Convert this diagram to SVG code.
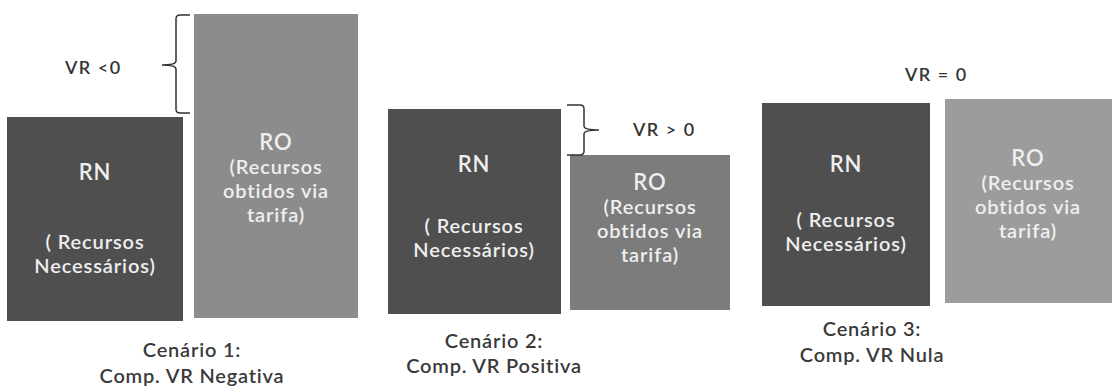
<svg xmlns="http://www.w3.org/2000/svg" width="1115" height="387" viewBox="0 0 1115 387">
<style>
.rn{fill:#4f4f4f}
.ro1{fill:#8c8c8c}
.ro2{fill:#7c7c7c}
.ro3{fill:#9c9c9c}
.bt{font-family:Lato,"Open Sans","Liberation Sans",sans-serif;font-size:20px;font-weight:600;fill:#efefef;text-anchor:middle;letter-spacing:0.9px}
.big{font-size:22px}
.cap{font-family:Lato,"Open Sans","Liberation Sans",sans-serif;font-size:20px;font-weight:600;fill:#3a3a3a;text-anchor:middle;letter-spacing:0.8px}
.vr{font-family:Lato,"Open Sans","Liberation Sans",sans-serif;font-size:18px;font-weight:600;fill:#333;letter-spacing:1.5px}
.br{fill:none;stroke:#333;stroke-width:1.5}
</style>
<rect width="1115" height="387" fill="#ffffff"/>

<g id="rn1">
<rect class="rn" x="7" y="117" width="176" height="204"/>
<text class="bt big" x="95" y="180">RN</text>
<text class="bt" x="95" y="249">( Recursos</text>
<text class="bt" x="95" y="273">Necessários)</text>
</g>
<g id="ro1">
<rect class="ro1" x="194" y="14" width="164" height="304"/>
<text class="bt big" x="276" y="150">RO</text>
<text class="bt" x="276" y="174">(Recursos</text>
<text class="bt" x="276" y="198">obtidos via</text>
<text class="bt" x="276" y="222">tarifa)</text>
</g>
<g id="rn2">
<rect class="rn" x="388" y="109" width="173" height="205"/>
<text class="bt big" x="474" y="172">RN</text>
<text class="bt" x="474" y="233">( Recursos</text>
<text class="bt" x="474" y="257">Necessários)</text>
</g>
<g id="ro2">
<rect class="ro2" x="570" y="155" width="160" height="155"/>
<text class="bt big" x="650" y="190">RO</text>
<text class="bt" x="650" y="214">(Recursos</text>
<text class="bt" x="650" y="238">obtidos via</text>
<text class="bt" x="650" y="262">tarifa)</text>
</g>
<g id="rn3">
<rect class="rn" x="762" y="103" width="168" height="203"/>
<text class="bt big" x="846" y="172">RN</text>
<text class="bt" x="846" y="227">( Recursos</text>
<text class="bt" x="846" y="251">Necessários)</text>
</g>
<g id="ro3">
<rect class="ro3" x="945" y="99" width="167" height="204"/>
<text class="bt big" x="1028" y="166">RO</text>
<text class="bt" x="1028" y="190">(Recursos</text>
<text class="bt" x="1028" y="214">obtidos via</text>
<text class="bt" x="1028" y="238">tarifa)</text>
</g>

<g id="connectors">
<path class="br" d="M190 15 H180 Q176 15 176 19 V61 Q176 65 162 65 Q176 65 176 69 V109 Q176 113 180 113 H190"/>
<path class="br" d="M567 105 H580 Q584 105 584 109 V126 Q584 130 599 130 Q584 130 584 134 V151 Q584 155 580 155 H567"/>
</g>

<g id="labels">
<text class="vr" x="65" y="74">VR &lt;0</text>
<text class="vr" x="633" y="136">VR &gt; 0</text>
<text class="vr" x="905" y="81">VR = 0</text>
</g>

<g id="captions">
<text class="cap" x="192" y="357">Cenário 1:</text>
<text class="cap" x="192" y="383">Comp. VR Negativa</text>
<text class="cap" x="494" y="348">Cenário 2:</text>
<text class="cap" x="494" y="373">Comp. VR Positiva</text>
<text class="cap" x="872" y="336">Cenário 3:</text>
<text class="cap" x="872" y="362">Comp. VR Nula</text>
</g>
</svg>
